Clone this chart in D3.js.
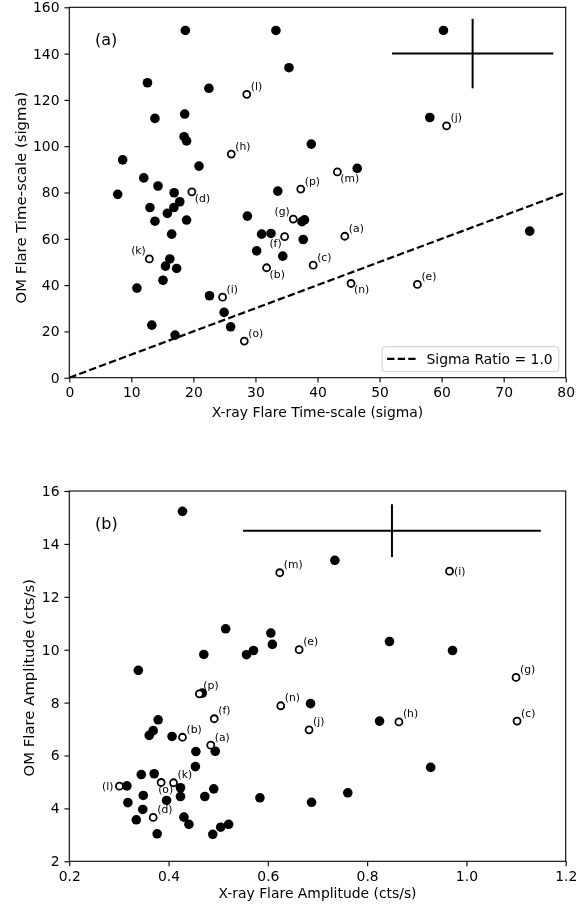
<!DOCTYPE html>
<html>
<head>
<meta charset="utf-8">
<script src="https://cdn.jsdelivr.net/npm/d3@7"></script>
<style>
  body { margin: 0; background: #fff; }
  svg { will-change: transform; }
  text { font-family: "DejaVu Sans", sans-serif; fill: #000; }
</style>
</head>
<body>
<div id="chart"></div>
<script>
// panel (a): time-scales in sigma
const aFilledX = [18.7, 33.3, 60.3, 35.4, 12.6, 22.5, 13.8, 18.6, 58.1, 18.5, 18.9, 39.0, 8.6, 20.9, 12.0, 14.3,
  46.4, 7.8, 16.9, 33.6, 17.8, 16.85, 13.0, 15.8, 13.8, 18.9, 28.7, 16.5, 31.0, 32.5, 37.5, 37.9, 37.7, 30.2,
  34.4, 16.2, 15.5, 17.3, 15.1, 10.9, 22.6, 24.95, 26.0, 13.3, 17.05, 74.2];
const aFilledY = [150, 150, 150, 133.9, 127.4, 125, 112, 113.9, 112.4, 104.1, 102.3, 100.9, 94.1, 91.4, 86.3, 82.8,
  90.4, 79.2, 79.9, 80.6, 76, 73.5, 73.5, 71, 67.6, 68.1, 69.8, 62, 62, 62.3, 67.4, 68.2, 59.7, 54.8,
  52.5, 51.3, 48.2, 47.2, 42.1, 38.7, 35.4, 28.2, 22.0, 22.7, 18.4, 63.3];

const openLabels = ["a", "b", "c", "d", "e", "f", "g", "h", "i", "j", "k", "l", "m", "n", "o", "p"];
const aOpenX = [44.4, 31.8, 39.3, 19.75, 56.1, 34.7, 36.1, 26.1, 24.7, 60.8, 12.9, 28.6, 43.2, 45.4, 28.2, 37.3];
const aOpenY = [61.1, 47.5, 48.6, 80.3, 40.3, 60.9, 68.5, 96.6, 34.8, 108.8, 51.3, 122.4, 88.9, 40.7, 15.8, 81.5];

const aErr = [65, 140, 13, 15]; // x, y, xerr, yerr
const ratioLine = [0, 80];     // sigma ratio = 1.0

// panel (b): amplitudes in cts/s
const bFilledX = [0.515, 0.606, 0.609, 0.471, 0.557, 0.571, 0.339, 0.686, 0.468, 0.379, 0.369, 0.361, 0.407, 0.455,
  0.494, 0.454, 0.345, 0.371, 0.316, 0.424, 0.491, 0.349, 0.424, 0.473, 0.318, 0.396, 0.348, 0.335, 0.431, 0.441,
  0.505, 0.521, 0.377, 0.489, 0.584, 0.688, 0.845, 0.972, 0.825, 0.928, 0.761, 0.428, 0.735];
const bFilledY = [10.79, 10.63, 10.2, 9.82, 9.81, 9.97, 9.22, 7.96, 8.36, 7.35, 6.94, 6.76, 6.72, 6.15,
  6.16, 5.58, 5.28, 5.31, 4.85, 4.78, 4.74, 4.49, 4.45, 4.45, 4.22, 4.30, 3.96, 3.57, 3.67, 3.4,
  3.29, 3.40, 3.04, 3.02, 4.40, 4.23, 10.31, 9.97, 7.30, 5.55, 4.59, 15.23, 13.38];

const bOpenX = [0.485, 0.428, 1.102, 0.369, 0.663, 0.492, 1.10, 0.864, 0.966, 0.683, 0.410, 0.301, 0.624, 0.626, 0.385, 0.462];
const bOpenY = [6.39, 6.69, 7.30, 3.66, 10.0, 7.39, 8.95, 7.27, 12.97, 6.97, 4.97, 4.84, 12.91, 7.88, 4.98, 8.33];

const bErr = [0.85, 14.5, 0.3, 1.0];

// where each open-point label sits
const aLabelSide = { a: "ur", b: "lr", c: "ur", d: "lr", e: "ur", f: "ll", g: "ul", h: "ur",
  i: "ur", j: "ur", k: "ul", l: "ur", m: "lr", n: "lr", o: "ur", p: "ur" };
const bLabelSide = { a: "ur", b: "ur", c: "ur", d: "ur", e: "ur", f: "ur", g: "ur", h: "ur",
  i: "r", j: "ur", k: "ur", l: "l", m: "ur", n: "ur", o: "d", p: "ur" };
const sideOffsets = {
  ur: [4, -4.5, "start"], lr: [3, 10, "start"], ul: [-3.5, -4.5, "end"], ll: [-3, 10, "end"],
  r: [4.5, 3.8, "start"], l: [-6, 3.8, "end"], d: [-3, 10.5, "start"]
};

const W = 587, H = 905;
const left = 69.3, right = 565.7;
const FS = 13.9;

const svg = d3.select("#chart").append("svg")
  .attr("width", W)
  .attr("height", H);

function drawPanel(p) {
  const x = d3.scaleLinear().domain(p.xDomain).range([left, right]);
  const y = d3.scaleLinear().domain(p.yDomain).range([p.bottom, p.top]);
  const g = svg.append("g");

  const clipId = "clip-" + p.id;
  svg.append("clipPath").attr("id", clipId)
    .append("rect")
      .attr("x", left).attr("y", p.top)
      .attr("width", right - left).attr("height", p.bottom - p.top);

  // dashed ratio line
  if (p.line) {
    g.append("line")
      .attr("clip-path", `url(#${clipId})`)
      .attr("x1", x(p.line[0])).attr("y1", y(p.line[0]))
      .attr("x2", x(p.line[1])).attr("y2", y(p.line[1]))
      .attr("stroke", "#000")
      .attr("stroke-width", 2.2)
      .attr("stroke-dasharray", "7.4,3.2");
  }

  // error cross
  const [ex, ey, exe, eye] = p.err;
  g.append("line")
    .attr("x1", x(ex - exe)).attr("x2", x(ex + exe))
    .attr("y1", y(ey)).attr("y2", y(ey))
    .attr("stroke", "#000").attr("stroke-width", 2);
  g.append("line")
    .attr("x1", x(ex)).attr("x2", x(ex))
    .attr("y1", y(ey - eye)).attr("y2", y(ey + eye))
    .attr("stroke", "#000").attr("stroke-width", 2);

  // filled points
  g.selectAll(".filled")
    .data(d3.range(p.fx.length))
    .enter()
    .append("circle")
      .attr("class", "filled")
      .attr("cx", i => x(p.fx[i]))
      .attr("cy", i => y(p.fy[i]))
      .attr("r", 4.8)
      .attr("fill", "#000");

  // open points with labels
  const open = g.selectAll(".open")
    .data(d3.range(p.ox.length))
    .enter()
    .append("g")
      .attr("class", "open");
  open.append("circle")
    .attr("cx", i => x(p.ox[i]))
    .attr("cy", i => y(p.oy[i]))
    .attr("r", 3.5)
    .attr("fill", "#fff")
    .attr("stroke", "#000")
    .attr("stroke-width", 1.8);
  open.append("text")
    .attr("x", i => x(p.ox[i]) + sideOffsets[p.sides[openLabels[i]]][0])
    .attr("y", i => y(p.oy[i]) + sideOffsets[p.sides[openLabels[i]]][1])
    .attr("text-anchor", i => sideOffsets[p.sides[openLabels[i]]][2])
    .style("font-size", "10.8px")
    .text(i => `(${openLabels[i]})`);

  // axes
  const xAxis = g.append("g")
    .attr("transform", `translate(0,${p.bottom})`)
    .call(d3.axisBottom(x).tickValues(p.xTicks).tickFormat(p.xFmt).tickSizeOuter(0).tickSize(4.9).tickPadding(4.5));
  const yAxis = g.append("g")
    .attr("transform", `translate(${left},0)`)
    .call(d3.axisLeft(y).tickValues(p.yTicks).tickFormat(p.yFmt).tickSizeOuter(0).tickSize(4.9).tickPadding(4.9));
  [xAxis, yAxis].forEach(a => {
    a.select(".domain").remove();
    a.selectAll("line").attr("stroke", "#000").attr("stroke-width", 1.1);
    a.selectAll("text")
      .style("font-size", FS + "px")
      .style("font-family", "DejaVu Sans");
  });
  xAxis.selectAll("text").attr("dy", "0.73em");

  // frame
  g.append("rect")
    .attr("x", left).attr("y", p.top)
    .attr("width", right - left).attr("height", p.bottom - p.top)
    .attr("fill", "none")
    .attr("stroke", "#000")
    .attr("stroke-width", 1.1);

  // titles
  g.append("text")
    .attr("x", (left + right) / 2)
    .attr("y", p.bottom + p.xTitleOff)
    .attr("text-anchor", "middle")
    .style("font-size", FS + "px")
    .text(p.xTitle);
  g.append("text")
    .attr("transform", `translate(${p.yTitleX},${(p.top + p.bottom) / 2 + p.yTitleShift}) rotate(-90) scale(1.07,1)`)
    .attr("text-anchor", "middle")
    .style("font-size", FS + "px")
    .text(p.yTitle);

  g.append("text")
    .attr("x", 95)
    .attr("y", p.top + 38)
    .style("font-size", "16px")
    .text(p.tag);

  // legend
  if (p.legend) {
    const lw = 176.7, lh = 25;
    const lx = right - 6.9 - lw, ly = p.bottom - 6 - lh;
    g.append("rect")
      .attr("x", lx).attr("y", ly)
      .attr("width", lw).attr("height", lh)
      .attr("rx", 3)
      .attr("fill", "#fff").attr("fill-opacity", 0.8)
      .attr("stroke", "#ccc").attr("stroke-width", 1);
    g.append("line")
      .attr("x1", lx + 5).attr("x2", lx + 33.5)
      .attr("y1", ly + 12.2).attr("y2", ly + 12.2)
      .attr("stroke", "#000")
      .attr("stroke-width", 2.2)
      .attr("stroke-dasharray", "7.4,3.2");
    g.append("text")
      .attr("x", lx + 44.4)
      .attr("y", ly + 17)
      .style("font-size", FS + "px")
      .text(p.legend);
  }
}

drawPanel({
  id: "a", tag: "(a)", top: 7.3, bottom: 377.7,
  xDomain: [0, 80], yDomain: [0, 160],
  xTicks: d3.range(0, 81, 10), yTicks: d3.range(0, 161, 20),
  xFmt: d3.format("d"), yFmt: d3.format("d"),
  fx: aFilledX, fy: aFilledY, ox: aOpenX, oy: aOpenY, sides: aLabelSide,
  err: aErr, line: ratioLine, legend: "Sigma Ratio = 1.0",
  xTitle: "X-ray Flare Time-scale (sigma)", xTitleOff: 39.5,
  yTitle: "OM Flare Time-scale (sigma)", yTitleX: 26, yTitleShift: 5
});

drawPanel({
  id: "b", tag: "(b)", top: 491, bottom: 861.3,
  xDomain: [0.2, 1.2], yDomain: [2, 16],
  xTicks: [0.2, 0.4, 0.6, 0.8, 1.0, 1.2], yTicks: d3.range(2, 17, 2),
  xFmt: d3.format(".1f"), yFmt: d3.format("d"),
  fx: bFilledX, fy: bFilledY, ox: bOpenX, oy: bOpenY, sides: bLabelSide,
  err: bErr, line: null, legend: null,
  xTitle: "X-ray Flare Amplitude (cts/s)", xTitleOff: 36.5,
  yTitle: "OM Flare Amplitude (cts/s)", yTitleX: 33.5, yTitleShift: 1.5
});
</script>
</body>
</html>
